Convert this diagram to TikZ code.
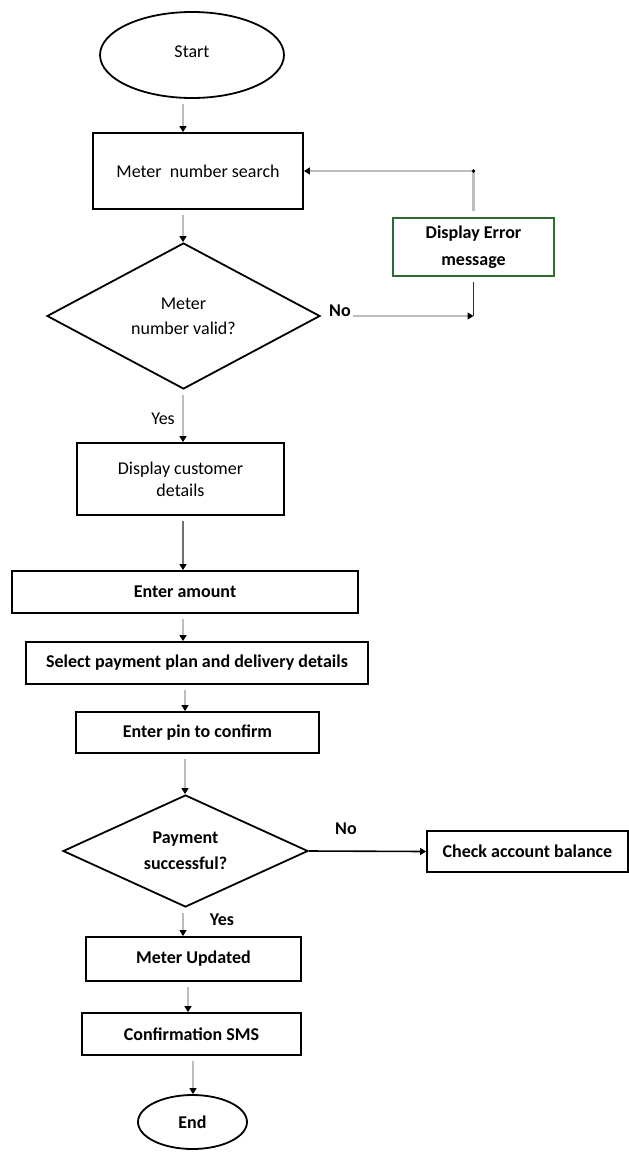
\documentclass[tikz,border=0pt]{standalone}
\usepackage{fontspec}
\setmainfont{Carlito}
\usetikzlibrary{shapes.geometric,arrows.meta}
\definecolor{linkgrey}{HTML}{BDBDBD}
\definecolor{darkgrey}{HTML}{707070}
\definecolor{errgreen}{HTML}{2E6B2E}
\definecolor{navy}{HTML}{1F2A66}
\begin{document}
\begin{tikzpicture}[x=1pt,y=-1pt,
  every node/.style={font=\fontsize{18}{20}\selectfont},
  stepbox/.style={draw=black,line width=1.8pt,inner sep=0pt,align=center},
  boldbox/.style={stepbox,font=\bfseries\fontsize{18}{20}\selectfont},
  terminal/.style={draw,ellipse,line width=1.8pt,inner sep=0pt},
  decision/.style={draw,diamond,shape aspect=2,line width=1.8pt,inner sep=0pt,align=center},
  lbl/.style={inner sep=0pt},
  boldlbl/.style={inner sep=0pt,font=\bfseries\fontsize{18}{20}\selectfont},
  flow/.style={draw=linkgrey,line width=2.2pt,-{Triangle[length=6pt,width=7pt,color=black]},shorten <=5pt}
]
\useasboundingbox (0,0) rectangle (629,1152);

% vertical axes of the main flow
\coordinate (ax) at (183,0);
\coordinate (bx) at (185,0);
\coordinate (cx) at (188,0);
\coordinate (dx) at (193,0);

% steps
\node[terminal,minimum width=184pt,minimum height=86pt] (start) at (192,55) {\raisebox{7pt}{Start}};
\node[stepbox,minimum width=210pt,minimum height=76pt] (search) at (198,171) {Meter\ \ number search};
\node[stepbox,draw=errgreen,minimum width=161pt,minimum height=58pt,
      font=\bfseries\fontsize{18}{27}\selectfont] (err) at (473.5,247) {Display Error\\message};
\node[decision,minimum width=273pt,minimum height=146pt,
      font=\fontsize{18}{25}\selectfont] (valid) at (183.5,316) {Meter\\number valid?};
\node[boldlbl] (no1) at (340,311) {No};
\node[lbl] (yes1) at (163,419) {Yes};
\node[stepbox,minimum width=207pt,minimum height=72pt,
      font=\fontsize{18}{22}\selectfont] (cust) at (180.5,479) {Display customer\\details};
\node[boldbox,minimum width=346pt,minimum height=42pt] (amount) at (185,592) {Enter amount};
\node[boldbox,minimum width=342pt,minimum height=42pt] (plan) at (197,663) {Select payment plan and delivery details};
\node[boldbox,minimum width=243pt,minimum height=41pt] (pin) at (197.5,732.5) {Enter pin to confirm};
\node[decision,minimum width=245pt,minimum height=112pt,
      font=\bfseries\fontsize{18}{26}\selectfont] (paid) at (185.5,851) {Payment\\successful?};
\node[boldlbl] (no2) at (346,829) {No};
\node[boldbox,minimum width=201pt,minimum height=41pt] (balance) at (527.5,851.5) {Check account balance};
\node[boldlbl] (yes2) at (222,920) {Yes};
\node[boldbox,minimum width=215pt,minimum height=44pt] (updated) at (193.5,959) {\raisebox{3pt}{Meter Updated}};
\node[boldbox,minimum width=219pt,minimum height=42pt] (sms) at (191.5,1034) {Confirmation SMS};
\node[terminal,minimum width=109pt,minimum height=54pt,
      font=\bfseries\fontsize{18}{20}\selectfont] (end) at (192.5,1122) {End};

% main flow
\draw[flow] (start.south -| ax) -- (search.north -| ax);
\draw[flow] (search.south -| ax) -- (valid.north -| ax);
\draw[flow] (valid.south -| ax) -- (cust.north -| ax);
\draw[flow,draw=darkgrey,line width=1.6pt] (cust.south -| ax) -- (amount.north -| ax);
\draw[flow] (amount.south -| ax) -- (plan.north -| ax);
\draw[flow] (plan.south -| bx) -- (pin.north -| bx);
\draw[flow] (pin.south -| bx) -- (paid.north -| bx);
\draw[flow] (paid.south -| ax) -- (updated.north -| ax);
\draw[flow] (updated.south -| cx) -- (sms.north -| cx);
\draw[flow] (sms.south -| dx) -- (end.north -| dx);

% invalid meter number loop
\draw[navy,line width=1.8pt,shorten <=5pt] (err.south) -- (err.south |- valid.east);
\draw[flow,shorten <=2pt] (no1.east |- valid.east) -- (err.south |- valid.east);
\draw[flow,shorten <=6pt] (err.north) -- (err.north |- search.east) -- (search.east);
\fill (err.north |- search.east) circle (1.8pt);

% failed payment
\draw[flow,draw=black,line width=1.6pt,shorten <=0pt] (paid.east) -- (balance.west);
\end{tikzpicture}
\end{document}
